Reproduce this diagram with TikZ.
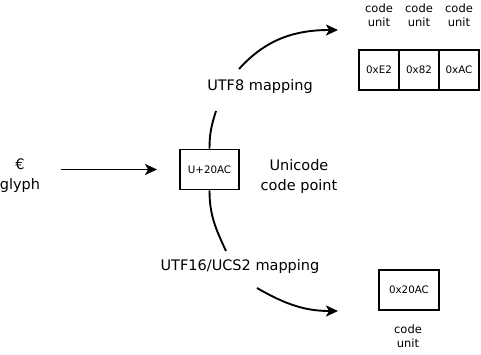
\documentclass[tikz,border=0pt]{standalone}
\usepackage{fontspec}
\setmainfont{DejaVu Sans}
\usetikzlibrary{arrows.meta}

\tikzset{
  cell/.style={draw,line width=1.9pt,inner sep=0pt,minimum height=40pt,font=\fontsize{10.3}{12}\selectfont},
  caption/.style={align=center,font=\fontsize{14.5}{20}\selectfont},
  small caption/.style={align=center,font=\fontsize{11.5}{14.5}\selectfont},
}

\begin{document}
\begin{tikzpicture}[x=1pt,y=1pt,>={Stealth[length=12pt,width=11pt,inset=3pt]}]
        \useasboundingbox (0,0) rectangle (481,-354);
        \node (glyph) [caption] at (20,-176) {€\\glyph};
        \node (cp) [cell,minimum width=59pt] at (209.5,-169.5) {U+20AC};
        \node (cpname) [caption] at (299,-176) {Unicode\\code point};
        % utf-8: three code units in a row
        \begin{scope}[every node/.style={cell,minimum width=40pt}]
            \node (e2) at (379,-70) {0xE2};
            \node (x82) at (419,-70) {0x82};
            \node (ac) at (459,-70) {0xAC};
        \end{scope}
        \begin{scope}[every node/.style={small caption}]
            \node (e2unit) at (379,-15) {code\\unit};
            \node (x82unit) at (419,-15) {code\\unit};
            \node (acunit) at (459,-15) {code\\unit};
            \node (wunit) at (408,-336) {code\\unit};
        \end{scope}
        % utf-16: a single code unit
        \node (w) [cell,minimum width=60pt] at (409,-290) {0x20AC};
        \node (utf8) [caption] at (260,-86) {UTF8 mapping};
        \node (utf16) [caption] at (240,-266) {UTF16/UCS2 mapping};
        \coordinate (up1) at (216,-111);
        \coordinate (up2) at (239,-69);
        \coordinate (up3) at (338,-30);
        \coordinate (dn1) at (226,-251);
        \coordinate (dn2) at (257,-288);
        \coordinate (dn3) at (338,-311);
        \begin{scope}[every edge/.style={draw,line width=1.9pt}]
            \path
                (glyph.east |- cp) edge [->,shorten <=17pt,shorten >=22pt] (cp)
                (cp.north) edge [out=90,in=252] (up1)
                (up2) edge [->,out=48,in=180] (up3)
                (cp.south) edge [out=-90,in=115] (dn1)
                (dn2) edge [->,out=-30,in=180] (dn3);
        \end{scope}
    \end{tikzpicture}
\end{document}
